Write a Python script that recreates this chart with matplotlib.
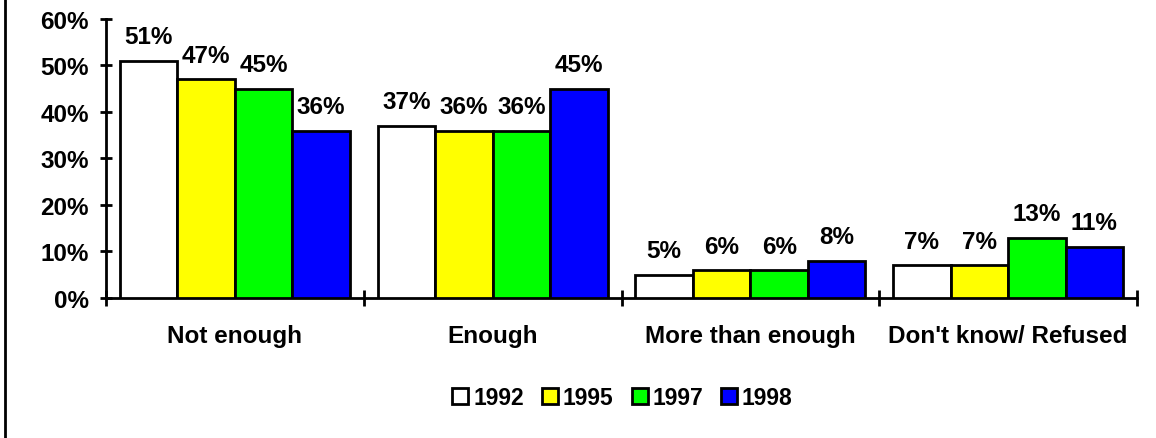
import matplotlib
matplotlib.use("Agg")
import matplotlib.pyplot as plt
from matplotlib.lines import Line2D
import numpy as np

plt.rcParams['font.family'] = ['Liberation Sans', 'DejaVu Sans']
plt.rcParams['font.weight'] = 'bold'

categories = ["Not enough", "Enough", "More than enough", "Don't know/ Refused"]
years = ["1992", "1995", "1997", "1998"]
values = {
    "1992": [51, 37, 5, 7],
    "1995": [47, 36, 6, 7],
    "1997": [45, 36, 6, 13],
    "1998": [36, 45, 8, 11],
}
colors = ["#FFFFFF", "#FFFF00", "#00FF00", "#0000FF"]

fig = plt.figure(figsize=(11.56, 4.39), dpi=100)
ax = fig.add_axes([0.0917, 0.319, 0.8919, 0.6356])

x = np.arange(len(categories))
bw = 0.223
for i, yr in enumerate(years):
    pos = x + (i - 1.5) * bw
    bars = ax.bar(pos, values[yr], bw, color=colors[i], edgecolor="black",
                  linewidth=2, label=yr, zorder=3)
    for b, v in zip(bars, values[yr]):
        ax.annotate(f"{v}%", (b.get_x() + b.get_width() / 2, v),
                    xytext=(0, 9), textcoords="offset points",
                    ha="center", va="bottom", fontsize=17.5, fontweight="bold")

ax.set_xlim(-0.5, len(categories) - 0.5)
ax.set_ylim(0, 60)
ax.set_yticks(range(0, 61, 10))
ax.set_yticklabels([f"{t}%" for t in range(0, 61, 10)])
ax.set_xticks(np.arange(-0.5, len(categories), 1.0))
ax.set_xticklabels([])
ax.set_xticks(x, minor=True)
ax.set_xticklabels(categories, minor=True)

ax.tick_params(axis="y", which="major", direction="inout", length=9, width=2,
               labelsize=17.5, pad=8)
ax.tick_params(axis="x", which="major", direction="inout", length=11, width=2)
ax.tick_params(axis="x", which="minor", length=0, labelsize=17.5, pad=19)

for s in ["top", "right"]:
    ax.spines[s].set_visible(False)
for s in ["left", "bottom"]:
    ax.spines[s].set_linewidth(2)

leg = fig.legend(loc="center", bbox_to_anchor=(0.5385, 0.093), ncol=4,
                 frameon=False, fontsize=16.5, handlelength=0.7,
                 handleheight=0.7, handletextpad=0.2, columnspacing=0.8)

fig.add_artist(Line2D([0.004, 0.004], [0, 1], color="black", linewidth=2,
                      transform=fig.transFigure))

fig.savefig("out.png", dpi=100)
